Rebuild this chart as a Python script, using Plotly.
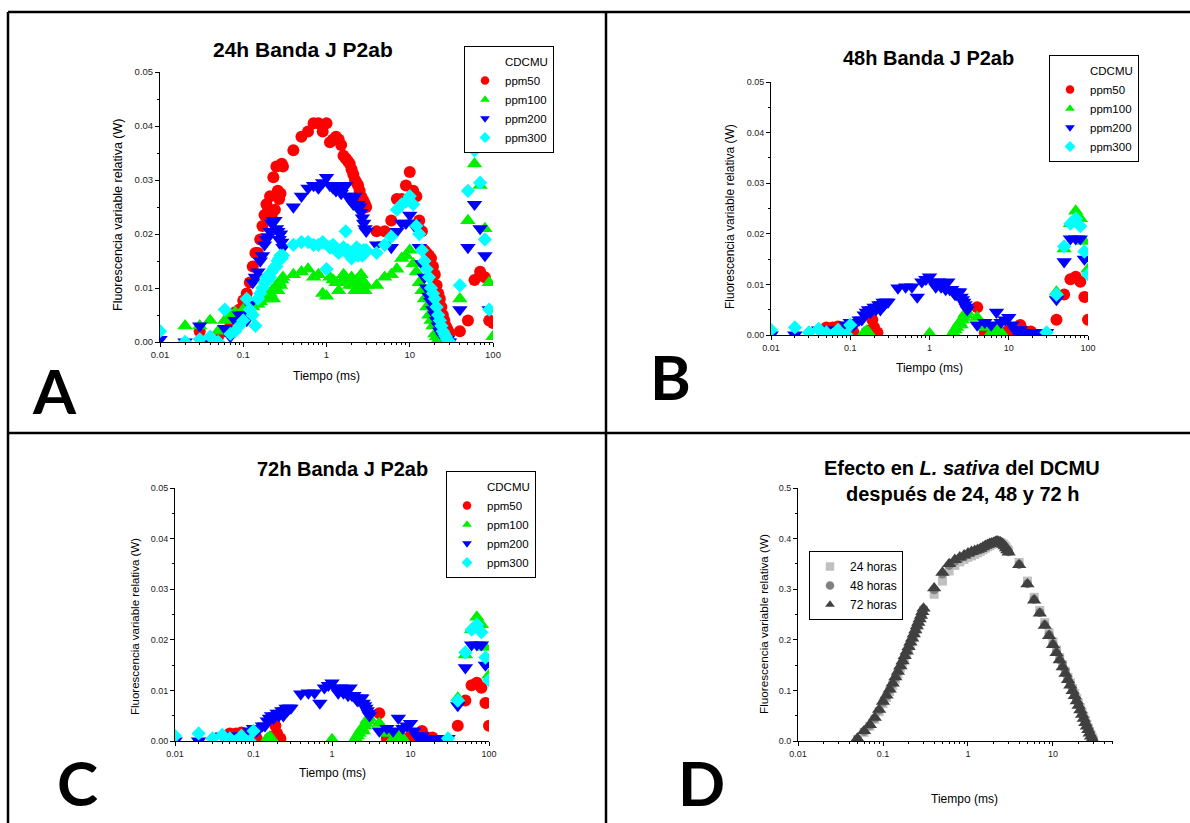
import plotly.graph_objects as go

W, H = 1190, 823
FONT = "Liberation Sans, Arial, sans-serif"

# ---------------- data ----------------
time_ms = [0.01, 0.02, 0.03, 0.04, 0.05, 0.06, 0.07, 0.08, 0.09, 0.10,
           0.11, 0.12, 0.13, 0.14, 0.15, 0.16, 0.17, 0.18, 0.19, 0.20,
           0.21, 0.22, 0.23, 0.24, 0.25, 0.26, 0.27, 0.28, 0.29, 0.30,
           0.4, 0.5, 0.6, 0.7, 0.8, 0.9, 1.0, 1.1, 1.2, 1.3, 1.4, 1.5, 1.6, 1.7,
           1.8, 1.9, 2.0, 2.1, 2.2, 2.3, 2.4, 2.5, 2.6, 2.7, 2.8, 2.9, 3.0,
           4, 5, 6, 7, 8, 9, 10, 11, 12, 13, 14, 15, 16, 17, 18, 19, 20, 21,
           22, 23, 24, 25, 26, 27, 28, 29, 30,
           40, 50, 60, 70, 80, 90, 100]

series_names = ["ppm50", "ppm100", "ppm200", "ppm300"]

# Panel A: 24h
a_ppm50 = [-0.003, -0.003, 0.002, 0.0005, 0.001, 0.002, 0.0035, 0.0055, 0.006, 0.0077,
           0.009, 0.011, 0.014, 0.0165, 0.0165, 0.019, 0.0215, 0.0235, 0.0255, 0.0245,
           0.027, 0.0235, 0.0305, 0.0245, 0.0325, 0.028, 0.0265, 0.0275, 0.033, 0.0325,
           0.0355, 0.038, 0.039, 0.0405, 0.0405, 0.039, 0.0405, 0.037, 0.0375, 0.038,
           0.0375, 0.0365, 0.0345, 0.034, 0.0335, 0.033, 0.032, 0.031, 0.030, 0.0295,
           0.029, 0.028, 0.027, 0.0265, 0.026, 0.0255, 0.025,
           0.0205, 0.0205, 0.0225, 0.0265, 0.0265, 0.029, 0.0315, 0.028, 0.027, 0.0225,
           0.0205, 0.017, 0.0165, 0.016, 0.0155, 0.014, 0.0125, 0.0105, 0.009, 0.008,
           0.0065, 0.005, 0.004, 0.003, 0.0025, 0.002, 0.0015,
           0.002, 0.004, 0.0115, 0.013, 0.012, 0.004, 0.0035]
a_ppm100 = [-0.003, 0.003, 0.003, 0.004, 0.002, 0.004, 0.005, 0.0055, 0.005, 0.006,
            0.0055, 0.006, 0.0065, 0.007, 0.007, 0.0075, 0.008, 0.0085, 0.0085, 0.008,
            0.009, 0.0095, 0.008, 0.010, 0.0105, 0.0095, 0.011, 0.0105, 0.0115, 0.012,
            0.0125, 0.013, 0.0135, 0.012, 0.0125, 0.009, 0.0085, 0.012, 0.0115, 0.011,
            0.0095, 0.011, 0.0125, 0.012, 0.0115, 0.0105, 0.012, 0.0105, 0.0095, 0.0115,
            0.010, 0.0115, 0.0125, 0.0105, 0.011, 0.0095, 0.0105,
            0.0105, 0.012, 0.0125, 0.0135, 0.0155, 0.016, 0.017, 0.0145, 0.013, 0.011,
            0.0095, 0.008, 0.0065, 0.005, 0.004, 0.003, 0.0015, 0.001, 0.0005, 0.0,
            -0.003, -0.003, -0.003, -0.003, -0.003, -0.003, -0.003,
            0.008, 0.0225, 0.033, 0.029, 0.021, 0.011, 0.001]
a_ppm200 = [0.0005, 0.0, 0.003, 0.0, -0.003, 0.0025, 0.001, 0.004, 0.005, 0.005,
            0.004, 0.007, 0.011, 0.012, 0.013, 0.015, 0.016, 0.018, 0.019, 0.0195,
            0.0205, 0.022, 0.0225, 0.0225, 0.021, 0.0205, 0.019, 0.020, 0.0185, 0.0175,
            0.025, 0.027, 0.0285, 0.029, 0.0285, 0.0295, 0.0305, 0.029, 0.0285, 0.028,
            0.029, 0.0275, 0.0285, 0.029, 0.027, 0.0265, 0.026, 0.0255, 0.027, 0.0255,
            0.0255, 0.025, 0.024, 0.023, 0.022, 0.021, 0.0205,
            0.018, 0.018, 0.0175, 0.0205, 0.022, 0.022, 0.0235, 0.022, 0.021, 0.0175,
            0.0145, 0.012, 0.010, 0.0085, 0.0075, 0.006, 0.005, 0.004, 0.003, 0.002,
            0.0015, 0.001, 0.001, 0.0005, 0.0005, 0.0, 0.0,
            0.006, 0.0175, 0.0255, 0.021, 0.016, 0.006, -0.003]
a_ppm300 = [0.002, 0.0, 0.0005, 0.001, 0.0, 0.006, 0.0015, 0.002, 0.003, 0.004,
            0.008, 0.006, 0.005, 0.003, 0.008, 0.009, 0.010, 0.011, 0.012, 0.0115,
            0.012, 0.013, 0.0135, 0.014, 0.014, 0.015, 0.0155, 0.016, 0.0155, 0.016,
            0.018, 0.0185, 0.0185, 0.018, 0.018, 0.0185, 0.0135, 0.0175, 0.018, 0.017,
            0.0165, 0.017, 0.0175, 0.0205, 0.017, 0.016, 0.0155, 0.0165, 0.017, 0.0175,
            0.016, 0.017, 0.0165, 0.016, 0.017, 0.0165, 0.017,
            0.0165, 0.018, 0.0195, 0.0245, 0.0255, 0.026, 0.027, 0.0255, 0.0215, 0.020,
            0.017, 0.015, 0.0135, 0.012, 0.010, 0.009, 0.008, 0.0065, 0.005, 0.004,
            0.003, 0.002, 0.0015, 0.001, 0.0005, 0.0, 0.0,
            0.0105, 0.028, 0.0355, 0.0295, 0.019, 0.006, -0.003]

# Panel B: 48h
b_ppm50 = [-0.003, -0.003, -0.003, -0.003, 0.0015, 0.0015, 0.0017, 0.001, 0.0005, 0.001,
           0.0005, -0.003, -0.003, -0.003, -0.003, 0.0005, -0.003, 0.001, 0.003, 0.0015,
           0.0005, 0.0005, -0.003, -0.003, -0.003, -0.003, -0.003, -0.003, -0.003, -0.003,
           -0.003, -0.003, -0.003, -0.003, -0.003, -0.003, -0.003, -0.003, -0.003, -0.003,
           -0.003, -0.003, -0.003, -0.003, -0.003, -0.003, -0.003, -0.003, -0.003, -0.003,
           -0.003, -0.003, -0.003, -0.003, -0.003, -0.003, -0.003,
           0.0055, 0.0005, 0.0005, 0.001, 0.0, 0.0005, 0.001, 0.0005, 0.001, 0.0015,
           0.002, 0.001, 0.0005, 0.0005, 0.0005, 0.0007, 0.0, -0.003, -0.003, -0.003,
           -0.003, -0.003, -0.003, -0.003, -0.003, -0.003, -0.003,
           0.003, 0.008, 0.011, 0.0115, 0.0105, 0.0075, 0.003]
b_ppm100 = [-0.003, -0.003, -0.003, -0.003, -0.003, -0.003, 0.001, -0.003, -0.003, -0.003,
            -0.003, -0.003, -0.003, -0.003, 0.0005, 0.0008, 0.0005, -0.003, -0.003, -0.003,
            -0.003, -0.003, -0.003, -0.003, -0.003, -0.003, -0.003, -0.003, -0.003, -0.003,
            -0.003, -0.003, -0.003, -0.003, -0.003, -0.003, 0.0003, -0.003, -0.003, -0.003,
            -0.003, -0.003, -0.003, -0.003, -0.003, -0.003, 0.0005, 0.001, 0.0015, 0.002,
            0.0025, 0.002, 0.003, 0.0035, 0.0042, 0.004, 0.0045,
            0.0035, 0.0015, 0.0005, 0.001, 0.0005, -0.003, -0.003, -0.003, -0.003, -0.003,
            -0.003, -0.003, -0.003, -0.003, -0.003, -0.003, -0.003, -0.003, -0.003, -0.003,
            -0.003, -0.003, -0.003, -0.003, -0.003, -0.003, -0.003,
            0.0085, 0.017, 0.022, 0.0245, 0.023, 0.0185, 0.013]
b_ppm200 = [0.0, 0.0, -0.003, 0.001, 0.001, 0.0005, 0.001, 0.001, 0.002, 0.0025,
            0.002, 0.0025, 0.003, 0.003, 0.004, 0.0045, 0.005, 0.0045, 0.005, 0.0055,
            0.005, 0.0055, 0.006, 0.005, 0.006, 0.0065, 0.006, 0.0065, 0.0065, 0.0065,
            0.0093, 0.0095, 0.0095, 0.0075, 0.0105, 0.011, 0.0115, 0.0105, 0.0095, 0.0105,
            0.0095, 0.010, 0.009, 0.0105, 0.009, 0.009, 0.0085, 0.008, 0.008, 0.0085,
            0.0085, 0.0075, 0.007, 0.0065, 0.006, 0.0055, 0.005,
            0.002, 0.0025, 0.002, 0.0045, 0.0025, 0.003, 0.0035, 0.002, 0.001, 0.001,
            0.001, 0.0005, 0.0005, 0.0005, 0.0005, 0.0005, 0.0005, 0.0, 0.0, 0.0,
            0.0, 0.0, 0.0005, 0.0005, 0.0005, 0.0005, 0.0005,
            0.007, 0.0145, 0.019, 0.019, 0.019, 0.015, -0.003]
b_ppm300 = [0.001, 0.0015, 0.0005, 0.0012, 0.0005, 0.0, 0.001, 0.0, 0.0, 0.002,
            -0.003, -0.003, -0.003, -0.003, -0.003, -0.003, -0.003, -0.003, -0.003, -0.003,
            -0.003, -0.003, -0.003, -0.003, -0.003, -0.003, -0.003, -0.003, -0.003, -0.003,
            -0.003, -0.003, -0.003, -0.003, -0.003, -0.003, -0.003, -0.003, -0.003, -0.003,
            -0.003, -0.003, -0.003, -0.003, -0.003, -0.003, -0.003, -0.003, -0.003, -0.003,
            -0.003, -0.003, -0.003, -0.003, -0.003, -0.003, -0.003,
            -0.003, -0.003, -0.003, -0.003, -0.003, -0.003, -0.003, -0.003, -0.003, -0.003,
            -0.003, -0.003, -0.003, -0.003, -0.003, -0.003, -0.003, -0.003, -0.003, -0.003,
            -0.003, -0.003, -0.003, -0.003, -0.003, -0.003, 0.0005,
            0.008, 0.0175, 0.022, 0.023, 0.0215, 0.0165, 0.012]

# Panel C: 72h (same readings as panel B in the source figure)
c_ppm50 = list(b_ppm50)
c_ppm100 = list(b_ppm100)
c_ppm200 = list(b_ppm200)
c_ppm300 = list(b_ppm300)

# Panel D
time_d = [0.05, 0.06, 0.07, 0.08, 0.09, 0.10, 0.11, 0.12, 0.13, 0.14,
          0.15, 0.16, 0.17, 0.18, 0.19, 0.20, 0.21, 0.22, 0.23, 0.24,
          0.25, 0.26, 0.27, 0.28, 0.29, 0.30,
          0.4, 0.5, 0.6, 0.7, 0.8, 0.9, 1.0, 1.1, 1.2, 1.3, 1.4, 1.5, 1.6, 1.7,
          1.8, 1.9, 2.0, 2.1, 2.2, 2.3, 2.4, 2.5, 2.6, 2.7, 2.8, 2.9, 3.0,
          4, 5, 6, 7, 8, 9, 10, 11, 12, 13, 14, 15, 16, 17, 18, 19, 20, 21,
          22, 23, 24, 25, 26, 27, 28, 29, 30]
d_24h = [0.003, 0.017, 0.029, 0.043, 0.058, 0.074, 0.086, 0.098, 0.110, 0.122,
         0.133, 0.144, 0.154, 0.164, 0.173, 0.182, 0.191, 0.199, 0.207, 0.215,
         0.223, 0.230, 0.237, 0.244, 0.251, 0.258,
         0.290, 0.316, 0.336, 0.347, 0.354, 0.359, 0.363, 0.366, 0.369, 0.372,
         0.375, 0.378, 0.381, 0.384, 0.386, 0.388, 0.390, 0.392, 0.393, 0.393,
         0.392, 0.391, 0.389, 0.386, 0.383, 0.379, 0.376,
         0.353, 0.316, 0.284, 0.258, 0.234, 0.214, 0.196, 0.180, 0.165, 0.151,
         0.138, 0.126, 0.115, 0.104, 0.094, 0.084, 0.075, 0.066, 0.057, 0.049,
         0.041, 0.033, 0.026, 0.019, 0.013, 0.007, 0.002]
d_48h = [0.004, 0.019, 0.031, 0.045, 0.061, 0.077, 0.089, 0.101, 0.113, 0.125,
         0.136, 0.147, 0.157, 0.167, 0.176, 0.185, 0.194, 0.202, 0.210, 0.218,
         0.226, 0.233, 0.240, 0.247, 0.254, 0.261,
         0.299, 0.330, 0.347, 0.355, 0.361, 0.365, 0.369, 0.372, 0.375, 0.377,
         0.379, 0.382, 0.385, 0.387, 0.389, 0.390, 0.391, 0.393, 0.394, 0.394,
         0.393, 0.391, 0.388, 0.385, 0.381, 0.378, 0.374,
         0.349, 0.311, 0.280, 0.254, 0.230, 0.210, 0.192, 0.176, 0.161, 0.147,
         0.134, 0.122, 0.111, 0.100, 0.090, 0.080, 0.071, 0.062, 0.053, 0.045,
         0.037, 0.030, 0.023, 0.016, 0.010, 0.005, 0.001]
d_72h = [0.005, 0.020, 0.032, 0.046, 0.062, 0.078, 0.090, 0.102, 0.114, 0.126,
         0.137, 0.148, 0.158, 0.168, 0.177, 0.186, 0.195, 0.203, 0.211, 0.219,
         0.227, 0.234, 0.241, 0.248, 0.255, 0.262,
         0.302, 0.333, 0.350, 0.358, 0.363, 0.367, 0.371, 0.374, 0.376, 0.378,
         0.380, 0.383, 0.386, 0.388, 0.390, 0.391, 0.392, 0.394, 0.395, 0.394,
         0.393, 0.391, 0.388, 0.385, 0.381, 0.377, 0.373,
         0.348, 0.310, 0.278, 0.252, 0.228, 0.208, 0.190, 0.174, 0.160, 0.146,
         0.133, 0.121, 0.110, 0.099, 0.089, 0.079, 0.070, 0.061, 0.052, 0.044,
         0.036, 0.029, 0.022, 0.015, 0.009, 0.004, 0.0]
d_names = ["24 horas", "48 horas", "72 horas"]

# ---------------- styles ----------------
sym = ["circle", "triangle-up", "triangle-down", "diamond"]
col = ["#FF0000", "#00F000", "#0000FF", "#00FFFF"]
size = [12, 13.5, 13.5, 11]
d_sym = ["square", "circle", "triangle-up"]
d_col = ["#C0C0C0", "#808080", "#404040"]
d_size = [9, 9, 12.5]


def px(x):
    return x / W


def py(y):
    return 1 - y / H


fig = go.Figure()

panels = [
    dict(n="", data=[a_ppm50, a_ppm100, a_ppm200, a_ppm300], tfs=9.5,
         xd=(160, 493), yd=(342, 72), leg="legend", legxy=(464, 46)),
    dict(n="2", data=[b_ppm50, b_ppm100, b_ppm200, b_ppm300], tfs=9,
         xd=(771, 1088), yd=(335, 82), leg="legend2", legxy=(1049, 55)),
    dict(n="3", data=[c_ppm50, c_ppm100, c_ppm200, c_ppm300], tfs=9,
         xd=(175, 489), yd=(741, 488), leg="legend3", legxy=(446, 471)),
]

axis_common = dict(showgrid=False, zeroline=False, showline=True, linecolor="black",
                   linewidth=1, ticks="outside", tickcolor="black", tickwidth=1,
                   automargin=False)

for p in panels:
    xa, ya = "x" + p["n"], "y" + p["n"]
    for i in range(4):
        fig.add_trace(go.Scatter(
            x=time_ms, y=p["data"][i], mode="markers", xaxis=xa, yaxis=ya,
            marker=dict(symbol=sym[i], size=size[i], color=col[i], line=dict(width=0)),
            showlegend=False, hoverinfo="skip"))
    fig.add_trace(go.Scatter(x=[None], y=[None], mode="markers", xaxis=xa, yaxis=ya,
                             name="CDCMU", legend=p["leg"],
                             marker=dict(size=8, color="rgba(0,0,0,0)")))
    for i in range(4):
        fig.add_trace(go.Scatter(
            x=[None], y=[None], mode="markers", xaxis=xa, yaxis=ya, name=series_names[i],
            legend=p["leg"],
            marker=dict(symbol=sym[i], size=8.5, color=col[i], line=dict(width=0))))

# panel D
for i in range(3):
    fig.add_trace(go.Scatter(
        x=time_d, y=[d_24h, d_48h, d_72h][i], mode="markers", xaxis="x4", yaxis="y4",
        marker=dict(symbol=d_sym[i], size=d_size[i], color=d_col[i], line=dict(width=0)),
        showlegend=False, hoverinfo="skip"))
for i in range(3):
    fig.add_trace(go.Scatter(
        x=[None], y=[None], mode="markers", xaxis="x4", yaxis="y4", name=d_names[i],
        legend="legend4",
        marker=dict(symbol=d_sym[i], size=8.5, color=d_col[i], line=dict(width=0))))

layout = dict(width=W, height=H, margin=dict(l=0, r=0, t=0, b=0, autoexpand=False),
              paper_bgcolor="white", plot_bgcolor="white", showlegend=True,
              font=dict(family=FONT, color="black"))

xticks = [0.01, 0.1, 1, 10, 100]
xtext = ["0.01", "0.1", "1", "10", "100"]
for p in panels:
    suf = p["n"]
    tf = dict(size=p["tfs"], family=FONT, color="#222")
    layout["xaxis" + suf] = dict(axis_common, type="log", range=[-2, 2],
                                 domain=[px(p["xd"][0]), px(p["xd"][1])],
                                 anchor="y" + p["n"], tickvals=xticks, ticktext=xtext,
                                 ticklen=4, tickfont=tf,
                                 minor=dict(ticks="outside", ticklen=2, dtick="D1",
                                            tickcolor="black", showgrid=False))
    layout["yaxis" + suf] = dict(axis_common, range=[0, 0.05],
                                 domain=[py(p["yd"][0]), py(p["yd"][1])],
                                 anchor="x" + p["n"], dtick=0.01, tickformat=".2f",
                                 ticklen=4, tickfont=tf,
                                 minor=dict(ticks="outside", ticklen=2, dtick=0.005,
                                            tickcolor="black", showgrid=False))
    layout[p["leg"]] = dict(x=px(p["legxy"][0]), y=py(p["legxy"][1]), xanchor="left",
                            yanchor="top", bordercolor="black", borderwidth=1,
                            bgcolor="white", font=dict(size=11.5, family=FONT),
                            itemwidth=30, traceorder="normal")

tfd = dict(size=9, family=FONT, color="#222")
layout["xaxis4"] = dict(axis_common, type="log", range=[-2, 1.706],
                        domain=[px(798), px(1113)], anchor="y4", tickfont=tfd,
                        tickvals=xticks[:4], ticktext=xtext[:4], ticklen=4,
                        minor=dict(ticks="outside", ticklen=2, dtick="D1",
                                   tickcolor="black", showgrid=False))
layout["yaxis4"] = dict(axis_common, range=[0, 0.5], domain=[py(741), py(488)],
                        anchor="x4", dtick=0.1, tickformat=".1f", ticklen=4,
                        tickfont=tfd,
                        minor=dict(ticks="outside", ticklen=2, dtick=0.05,
                                   tickcolor="black", showgrid=False))
layout["legend4"] = dict(x=px(809), y=py(551), xanchor="left", yanchor="top",
                         bordercolor="black", borderwidth=1, bgcolor="white",
                         font=dict(size=12, family=FONT), itemwidth=30,
                         traceorder="normal")

fig.update_layout(**layout)

ann = []


def text(x, y, s, size, bold=False, angle=0, family=FONT):
    ann.append(dict(x=px(x), y=py(y), xref="paper", yref="paper", text=s,
                    showarrow=False, xanchor="center", yanchor="middle",
                    textangle=angle,
                    font=dict(size=size, family=family, color="black",
                              weight="bold" if bold else "normal")))


# titles
text(303, 49, "24h Banda J P2ab", 21, bold=True)
text(928, 58, "48h Banda J P2ab", 20, bold=True)
text(342, 469, "72h Banda J P2ab", 20, bold=True)
text(962, 468, "Efecto en <i>L. sativa</i> del DCMU", 20, bold=True)
text(962, 494, "después de 24, 48 y 72 h", 20, bold=True)

# axis titles
ylab = "Fluorescencia variable relativa (W)"
text(326, 376, "Tiempo (ms)", 12)
text(929, 368, "Tiempo (ms)", 12)
text(332, 773, "Tiempo (ms)", 12)
text(964, 799, "Tiempo (ms)", 12)
text(118, 215, ylab, 12.5, angle=-90)
text(730, 217, ylab, 12, angle=-90)
text(135, 627, ylab, 11.5, angle=-90)
text(763, 624, ylab, 11.7, angle=-90)

# panel letters
LET = "Lato, Open Sans, sans-serif"
text(54, 390, "A", 62, bold=True, family=LET)
text(670, 376, "B", 62, bold=True, family=LET)
text(77, 782, "C", 62, bold=True, family=LET)
text(701, 782, "D", 62, bold=True, family=LET)

fig.update_layout(annotations=ann)

# panel frame lines
lw = 2.5
shapes = []
for (x0, y0, x1, y1) in [(8, 12, W + 5, 12), (8, 12, 8, H + 5), (606, 12, 606, H + 5),
                         (8, 433, W + 5, 433)]:
    shapes.append(dict(type="line", xref="paper", yref="paper", x0=px(x0), y0=py(y0),
                       x1=px(x1), y1=py(y1), line=dict(color="black", width=lw)))
fig.update_layout(shapes=shapes)

fig.write_html("out.html", config={"displayModeBar": False},
               post_script="document.body.style.margin='0px';"
                           "document.body.style.padding='0px';"
                           "document.body.style.overflow='hidden';")
